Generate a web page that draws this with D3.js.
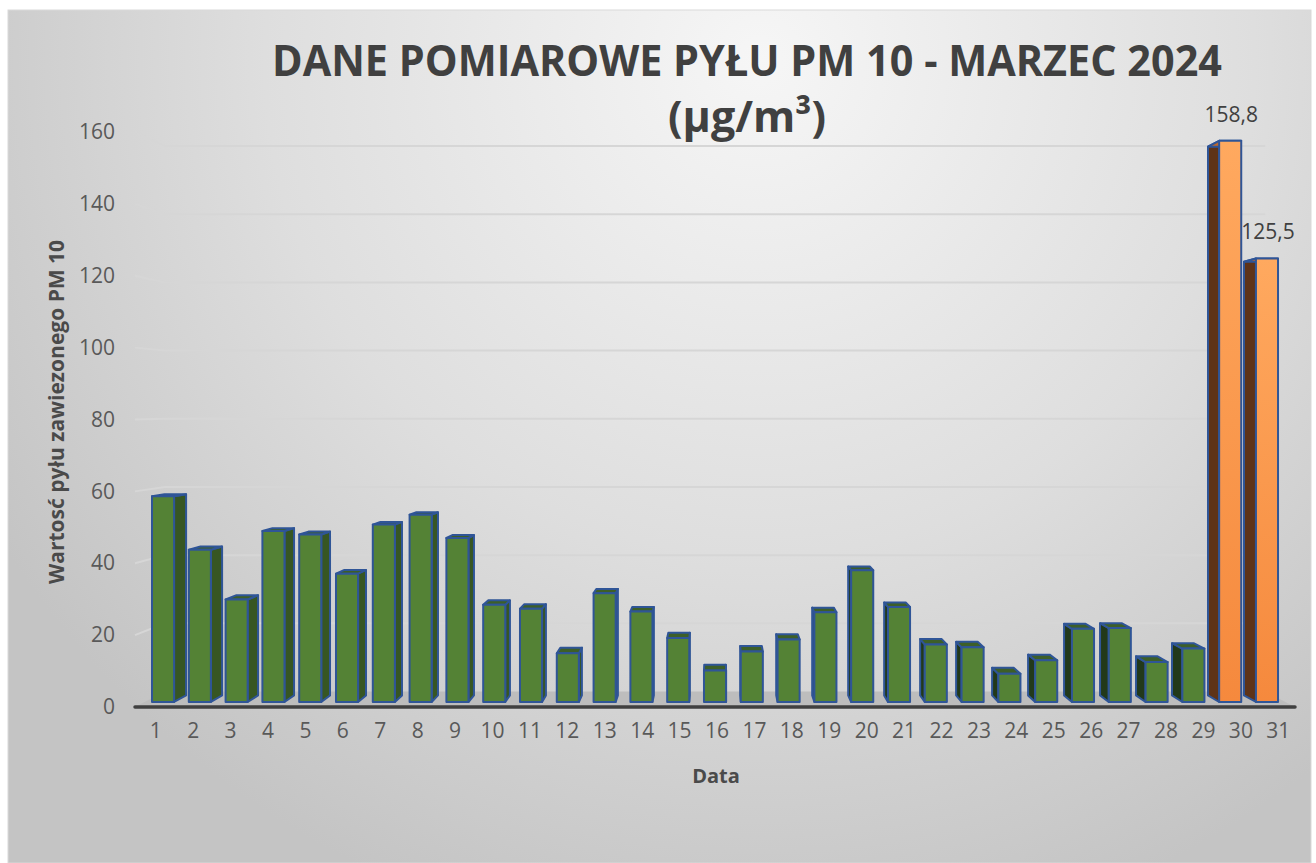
<!DOCTYPE html>
<html lang="pl">
<head>
    <meta charset="UTF-8">
    <title>Dane pomiarowe pyłu PM 10 - marzec 2024</title>
    <style>
        body { margin: 0; background: #ffffff; }
        svg text { font-family: "Open Sans", "Noto Sans", sans-serif; }
    </style>
</head>
<body>
    <svg id="chart" width="1316" height="863"></svg>
    <script src="https://d3js.org/d3.v7.min.js"></script>
    <script>
        // data
        var days = ["1","2","3","4","5","6","7","8","9","10","11","12","13","14","15","16",
                    "17","18","19","20","21","22","23","24","25","26","27","28","29","30","31"];
        var pm10 = [58.2, 43.1, 29.0, 48.4, 47.4, 36.3, 50.2, 53.0, 46.4, 27.5, 26.4, 13.8, 30.8, 25.6, 18.1, 8.9,
                    14.3, 17.7, 25.4, 37.3, 26.9, 16.3, 15.5, 8.0, 11.8, 20.7, 20.9, 11.3, 15.1, 158.8, 125.5];
        var highDays = ["30", "31"];
        var labelDays = ["30", "31"];
        var yTicks = [0, 20, 40, 60, 80, 100, 120, 140, 160];

        var width = 1316, height = 863;
        var svg = d3.select("#chart");

        // background
        var defs = svg.append("defs");
        var bg = defs.append("radialGradient").attr("id", "bg")
            .attr("gradientUnits", "userSpaceOnUse")
            .attr("cx", 760).attr("cy", 60).attr("r", 900);
        bg.append("stop").attr("offset", "0").attr("stop-color", "#f6f6f6");
        bg.append("stop").attr("offset", "0.55").attr("stop-color", "#dedede");
        bg.append("stop").attr("offset", "1").attr("stop-color", "#c4c4c4");
        var og = defs.append("linearGradient").attr("id", "orange")
            .attr("x1", 0).attr("y1", 0).attr("x2", 0).attr("y2", 1);
        og.append("stop").attr("offset", "0").attr("stop-color", "#ffa95f");
        og.append("stop").attr("offset", "1").attr("stop-color", "#f5893d");

        svg.append("rect").attr("x", 8).attr("y", 10).attr("width", 1303).attr("height", 853)
            .attr("fill", "url(#bg)").attr("stroke", "#d9d9d9").attr("stroke-width", 1);

        // 3d projection: vanishing point and depths
        var VP = [716, 405];
        var tWall = 0.0513, tFront = 0.0166, tBack = 0.0384;
        function P(X, Y, t) { return [X + (VP[0] - X) * t, Y + (VP[1] - Y) * t]; }
        function poly(pts) { return pts.map(function(p) { return p.join(","); }).join(" "); }

        var x = d3.scaleBand().domain(days).range([135, 1295]).paddingInner(0.4).paddingOuter(0.2);
        var y = d3.scaleLinear().domain([0, 160]).range([707, 132]);

        // gridlines (side wall + back wall)
        var grid = svg.append("g").attr("fill", "none").attr("stroke", "#d6d6d6").attr("stroke-width", 2);
        yTicks.filter(function(v) { return v > 0; }).forEach(function(v) {
            var a = P(135, y(v), 0), b = P(135, y(v), tWall), c = P(1295, y(v), tWall);
            grid.append("polyline").attr("points", poly([a, b, c]));
        });

        // floor
        svg.append("polygon")
            .attr("points", poly([P(135, y(0), 0), P(1295, y(0), 0), P(1295, y(0), tWall), P(135, y(0), tWall)]))
            .attr("fill", "#bdbdbd");
        svg.append("line")
            .attr("x1", 135).attr("x2", 1295).attr("y1", y(0)).attr("y2", y(0))
            .attr("stroke", "#404040").attr("stroke-width", 3.5).attr("stroke-linecap", "round");

        // bars
        var bars = svg.append("g").attr("stroke", "#2f5597").attr("stroke-width", 2).attr("stroke-linejoin", "round");
        days.forEach(function(d, i) {
            var v = pm10[i];
            var x0 = x(d), x1 = x(d) + x.bandwidth();
            var yt = y(v), yb = y(0);
            var high = highDays.indexOf(d) >= 0;
            var leftSide = (x0 + x1) / 2 > VP[0];
            var sx = leftSide ? x0 : x1;
            var g = bars.append("g");
            g.append("polygon")
                .attr("points", poly([P(sx, yt, tFront), P(sx, yt, tBack), P(sx, yb, tBack), P(sx, yb, tFront)]))
                .attr("fill", high ? "#5e3318" : (leftSide ? "#22391a" : "#375623"));
            g.append("polygon")
                .attr("points", poly([P(x0, yt, tFront), P(x1, yt, tFront), P(x1, yt, tBack), P(x0, yt, tBack)]))
                .attr("fill", high ? "#c0692a" : "#3d5f28");
            var f0 = P(x0, yt, tFront), f1 = P(x1, yb, tFront);
            g.append("rect")
                .attr("x", f0[0]).attr("y", f0[1])
                .attr("width", f1[0] - f0[0]).attr("height", f1[1] - f0[1])
                .attr("fill", high ? "url(#orange)" : "#548235");
        });

        // data labels
        days.forEach(function(d, i) {
            if (labelDays.indexOf(d) < 0) return;
            var p = P(x(d) + x.bandwidth() / 2, y(pm10[i]), tFront);
            svg.append("text")
                .attr("x", p[0] + 1).attr("y", p[1] - 19)
                .attr("text-anchor", "middle")
                .attr("font-size", 21).attr("fill", "#404040")
                .text(String(pm10[i]).replace(".", ","));
        });

        // axes
        var yAxis = svg.append("g").attr("transform", "translate(115,0)")
            .call(d3.axisLeft(y).tickValues(yTicks).tickSize(0).tickPadding(0));
        yAxis.select(".domain").remove();
        yAxis.selectAll("text").attr("font-size", 21).attr("fill", "#595959")
            .style("font-family", "'Open Sans', sans-serif");

        var xAxis = svg.append("g").attr("transform", "translate(2,723)")
            .call(d3.axisBottom(x).tickSize(0).tickPadding(0));
        xAxis.select(".domain").remove();
        xAxis.selectAll("text").attr("font-size", 21).attr("fill", "#595959")
            .style("font-family", "'Open Sans', sans-serif");

        // titles
        svg.append("text")
            .attr("x", 747).attr("y", 76)
            .attr("text-anchor", "middle")
            .attr("font-size", 43).attr("font-weight", "bold").attr("fill", "#404040")
            .attr("textLength", 950).attr("lengthAdjust", "spacingAndGlyphs")
            .text("DANE POMIAROWE PYŁU PM 10 - MARZEC 2024");
        svg.append("text")
            .attr("x", 747).attr("y", 132)
            .attr("text-anchor", "middle")
            .attr("font-size", 43).attr("font-weight", "bold").attr("fill", "#404040")
            .text("(µg/m³)");

        svg.append("text")
            .attr("transform", "translate(64,412) rotate(-90)")
            .attr("text-anchor", "middle")
            .attr("font-size", 21).attr("font-weight", "bold").attr("fill", "#4a4a4a")
            .text("Wartosć pyłu zawiezonego PM 10");

        svg.append("text")
            .attr("x", 716).attr("y", 783)
            .attr("text-anchor", "middle")
            .attr("font-size", 20).attr("font-weight", "bold").attr("fill", "#4a4a4a")
            .text("Data");
    </script>
</body>
</html>
